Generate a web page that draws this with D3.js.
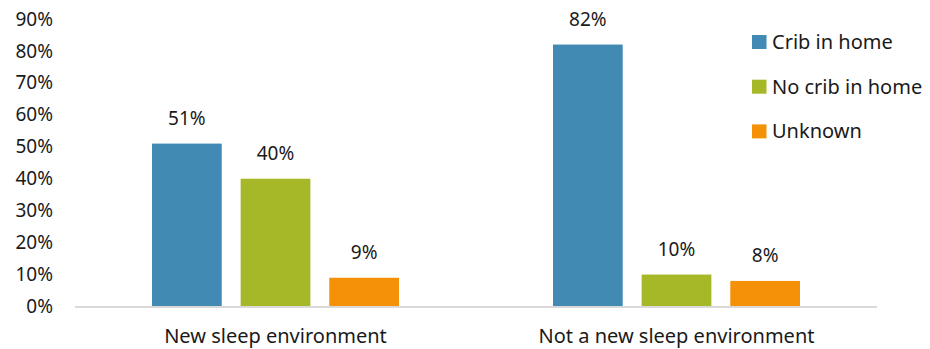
<!DOCTYPE html>
<html>
<head>
<meta charset="utf-8">
<script src="https://cdn.jsdelivr.net/npm/d3@7"></script>
<style>
  body { margin: 0; background: #fff; }
  text { font-family: "Noto Sans", sans-serif; fill: #1a1a1a; }
</style>
</head>
<body>
<div id="chart"></div>
<script>
const categories = ["New sleep environment", "Not a new sleep environment"];
const seriesNames = ["Crib in home", "No crib in home", "Unknown"];
const crib    = [51, 82];
const noCrib  = [40, 10];
const unknown = [9, 8];
const yTicks  = [0, 10, 20, 30, 40, 50, 60, 70, 80, 90];
const colors  = ["#418AB3", "#A6B727", "#F59107"];

const W = 930, H = 349;
const margin = { top: 19, right: 53, bottom: 42.5, left: 75 };
const width  = W - margin.left - margin.right;
const height = H - margin.top - margin.bottom;
const numSize = '19px';   // percent labels
const wordSize = '20px';  // category + legend text

const svg = d3.select('#chart').append('svg')
  .attr('width', W).attr('height', H);
const g = svg.append('g').attr('transform', `translate(${margin.left},${margin.top})`);

const values = [crib, noCrib, unknown];
const data = categories.map((c, i) => ({
  cat: c,
  vals: seriesNames.map((s, j) => ({ series: s, idx: j, value: values[j][i] }))
}));

const x0 = d3.scaleBand().domain(categories).range([0, width]).padding(0);
const x1 = d3.scaleBand().domain(seriesNames).range([0, 247]).paddingInner(19 / 89);
const y  = d3.scaleLinear().domain([0, 90]).range([height, 0]);

// y tick labels (no axis line, no gridlines)
const yAxis = g.append('g')
  .call(d3.axisLeft(y).tickValues(yTicks).tickFormat(d => d + '%').tickSize(0).tickPadding(22));
yAxis.select('.domain').remove();
yAxis.selectAll('text').style('font-size', numSize).style('font-family', '"Noto Sans", sans-serif').attr('fill', '#1a1a1a');

// groups of bars
const groups = g.selectAll('.grp').data(data).enter().append('g')
  .attr('class', 'grp')
  .attr('transform', d => `translate(${x0(d.cat) + (x0.bandwidth() - 247) / 2},0)`);

groups.selectAll('rect').data(d => d.vals).enter().append('rect')
  .attr('x', d => x1(d.series))
  .attr('y', d => y(d.value))
  .attr('width', x1.bandwidth())
  .attr('height', d => height - y(d.value))
  .attr('fill', d => colors[d.idx]);

groups.selectAll('.val').data(d => d.vals).enter().append('text')
  .attr('class', 'val')
  .attr('x', d => x1(d.series) + x1.bandwidth() / 2)
  .attr('y', d => y(d.value) - 19)
  .attr('text-anchor', 'middle')
  .style('font-size', numSize)
  .text(d => d.value + '%');

// x axis baseline and category labels
g.append('line')
  .attr('x1', 0).attr('x2', width)
  .attr('y1', height + 0.5).attr('y2', height + 0.5)
  .attr('stroke', '#D9D9D9').attr('stroke-width', 2);

g.selectAll('.cat').data(categories).enter().append('text')
  .attr('class', 'cat')
  .attr('x', d => x0(d) + x0.bandwidth() / 2)
  .attr('y', height + 36)
  .attr('text-anchor', 'middle')
  .style('font-size', wordSize)
  .text(d => d);

// legend
const legend = svg.append('g').attr('transform', 'translate(752,35)');
const li = legend.selectAll('g').data(seriesNames).enter().append('g')
  .attr('transform', (d, i) => `translate(0,${i * 44.7})`);
li.append('rect').attr('width', 14.5).attr('height', 14).attr('fill', (d, i) => colors[i]);
li.append('text').attr('x', 20).attr('y', 7).attr('dy', '0.35em')
  .style('font-size', wordSize).text(d => d);
</script>
</body>
</html>
